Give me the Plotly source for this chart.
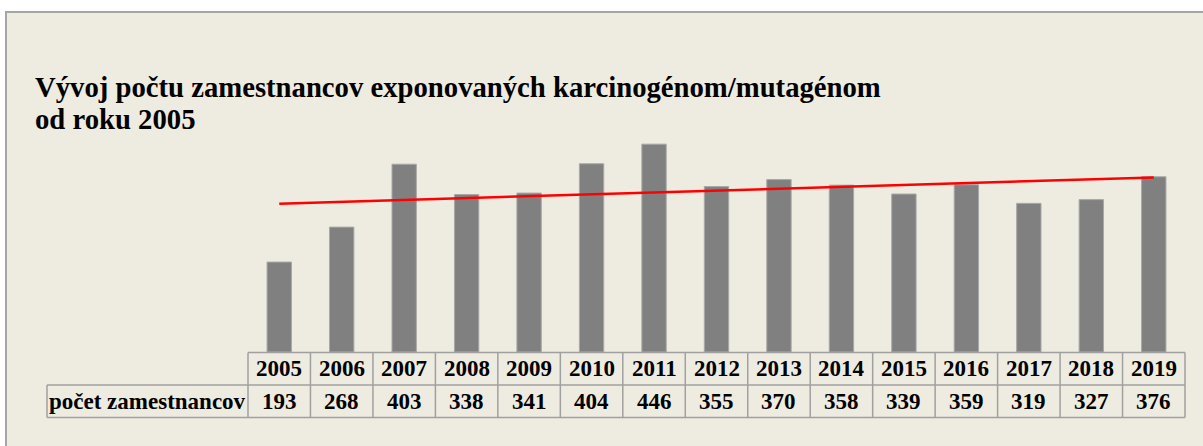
import numpy as np
import plotly.graph_objects as go

years = ["2005", "2006", "2007", "2008", "2009", "2010", "2011", "2012",
         "2013", "2014", "2015", "2016", "2017", "2018", "2019"]
values = [193, 268, 403, 338, 341, 404, 446, 355, 370, 358, 339, 359, 319, 327, 376]
row_label = "počet zamestnancov"
title_lines = ["Vývoj počtu zamestnancov exponovaných karcinogénom/mutagénom", "od roku 2005"]

W_FIG, H_FIG = 1203, 446
L, R = 248, 1185          # plot area left/right pixel
T, B = 119, 352           # plot area top/bottom pixel
PW, PH = R - L, B - T

def px(x):
    return (x - L) / PW

def py(y):
    return (B - y) / PH

BG = "#EEEBE0"
GRID = "#A0A0A0"
FONT = "Liberation Serif"

idx = np.arange(len(values))
coef = np.polyfit(idx, values, 1)
trend = np.polyval(coef, idx)

fig = go.Figure()
fig.add_trace(go.Bar(x=years, y=values, marker=dict(color="#808080", line=dict(color="#A8A8A8", width=1)),
                     showlegend=False, hoverinfo="x+y"))
fig.add_trace(go.Scatter(x=years, y=trend, mode="lines", line=dict(color="#FF0000", width=2.5),
                         showlegend=False, hoverinfo="skip"))

shapes = []
shapes.append(dict(type="rect", xref="paper", yref="paper", x0=px(6), x1=px(1215), y0=py(460), y1=py(12),
                   fillcolor=BG, line=dict(color="#A6A6A6", width=2), layer="below"))

n = len(years)
colw = PW / n
row0, row1, row2 = 352.5, 385, 417.5
lw = 1.5
shapes.append(dict(type="line", xref="paper", yref="paper", x0=px(L), x1=px(R), y0=py(row0), y1=py(row0),
                   line=dict(color=GRID, width=lw)))
shapes.append(dict(type="line", xref="paper", yref="paper", x0=px(47), x1=px(R), y0=py(row1), y1=py(row1),
                   line=dict(color=GRID, width=lw)))
shapes.append(dict(type="line", xref="paper", yref="paper", x0=px(47), x1=px(R), y0=py(row2), y1=py(row2),
                   line=dict(color=GRID, width=lw)))
for i in range(n + 1):
    xx = L + i * colw
    shapes.append(dict(type="line", xref="paper", yref="paper", x0=px(xx), x1=px(xx), y0=py(row0), y1=py(row2),
                       line=dict(color=GRID, width=lw)))
shapes.append(dict(type="line", xref="paper", yref="paper", x0=px(47), x1=px(47), y0=py(row1), y1=py(row2),
                   line=dict(color=GRID, width=lw)))

annotations = []
tfont = dict(family=FONT, size=23, color="#000000")
for i, (y, v) in enumerate(zip(years, values)):
    annotations.append(dict(x=i, xref="x", y=py((row0 + row1) / 2), yref="paper", text="<b>%s</b>" % y,
                            showarrow=False, font=tfont, xanchor="center", yanchor="middle"))
    annotations.append(dict(x=i, xref="x", y=py((row1 + row2) / 2), yref="paper", text="<b>%d</b>" % v,
                            showarrow=False, font=tfont, xanchor="center", yanchor="middle"))
annotations.append(dict(x=px((47 + L) / 2), xref="paper", y=py((row1 + row2) / 2), yref="paper",
                        text="<b>%s</b>" % row_label, showarrow=False, font=tfont,
                        xanchor="center", yanchor="middle"))
for line_text, ymid in zip(title_lines, [87, 119]):
    annotations.append(dict(x=px(33), xref="paper", y=py(ymid), yref="paper", text="<b>%s</b>" % line_text,
                            showarrow=False, xanchor="left", yanchor="middle",
                            font=dict(family=FONT, size=28.7, color="#000000")))

fig.update_layout(
    width=W_FIG, height=H_FIG,
    margin=dict(l=L, r=W_FIG - R, t=T, b=H_FIG - B, autoexpand=False),
    paper_bgcolor="#FFFFFF", plot_bgcolor="rgba(0,0,0,0)",
    bargap=0.61,
    xaxis=dict(type="category", showticklabels=False, showgrid=False, zeroline=False, showline=False,
               ticks="", range=[-0.5, n - 0.5]),
    yaxis=dict(showticklabels=False, showgrid=False, zeroline=False, showline=False, ticks="",
               range=[0, 500]),
    shapes=shapes, annotations=annotations,
)
fig.write_html("out.html", config={"displayModeBar": False},
               post_script="document.body.style.margin='0px';")
